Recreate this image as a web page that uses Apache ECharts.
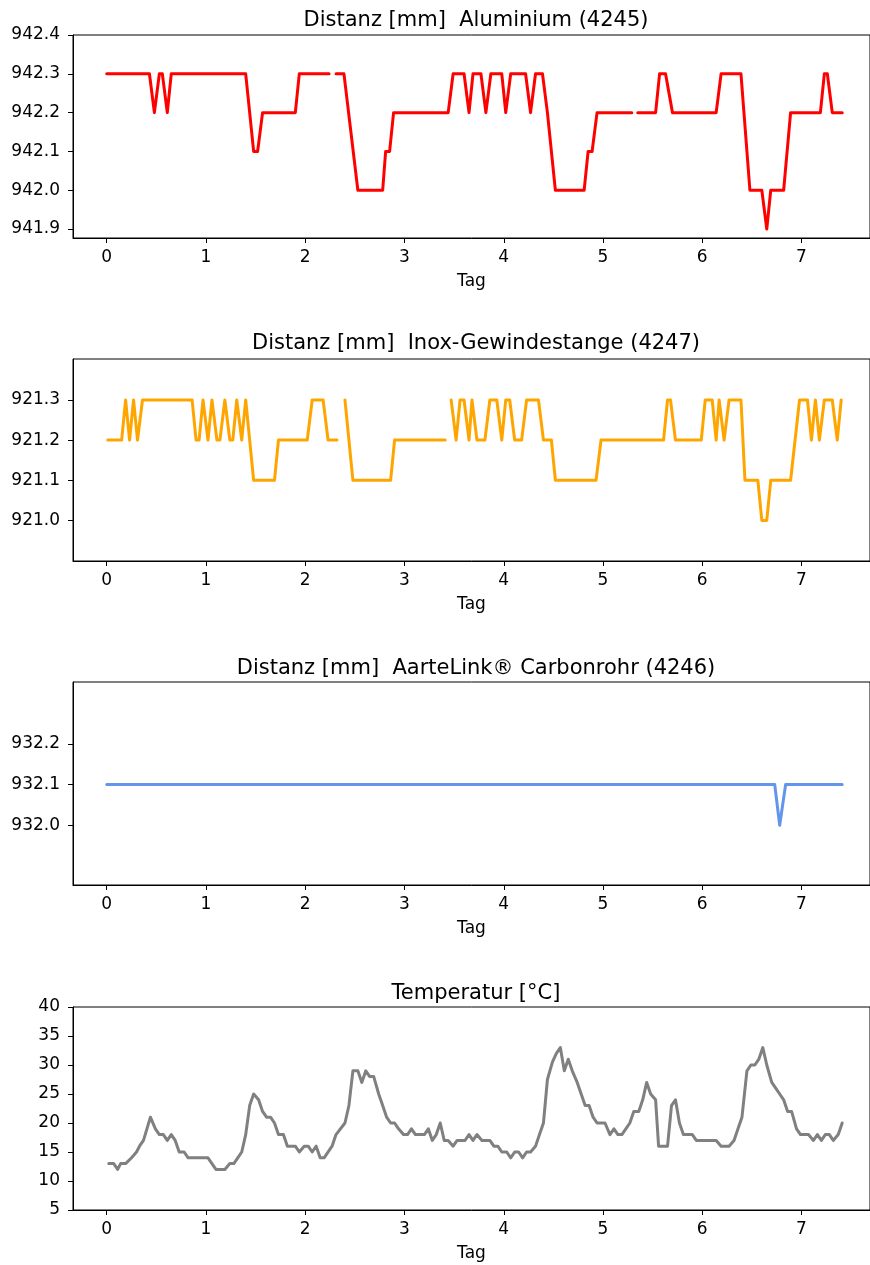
<!DOCTYPE html>
<html>
<head>
<meta charset="utf-8">
<script src="https://cdn.jsdelivr.net/npm/echarts@6/dist/echarts.min.js"></script>
<style>
html,body{margin:0;padding:0;background:#fff;}
#chart{width:870px;height:1265px;}
</style>
</head>
<body>
<div id="chart"></div>
<script>
// ---- Data (Tag = day) ----
const dayTicks = [0, 1, 2, 3, 4, 5, 6, 7];

const titles = [
  'Distanz [mm]  Aluminium (4245)',
  'Distanz [mm]  Inox-Gewindestange (4247)',
  'Distanz [mm]  AarteLink\u00AE Carbonrohr (4246)',
  'Temperatur [\u00B0C]'
];

const aluX = [0.00,0.43,0.48,0.53,0.56,0.61,0.65,1.40,1.48,1.52,1.57,1.90,1.94,2.24,2.27,2.31,2.39,2.53,2.78,2.81,2.85,2.89,3.44,3.49,3.60,3.65,3.69,3.77,3.82,3.87,3.98,4.02,4.07,4.22,4.27,4.32,4.39,4.44,4.52,4.81,4.85,4.89,4.94,5.29,5.32,5.35,5.53,5.57,5.63,5.70,6.14,6.19,6.39,6.42,6.48,6.60,6.65,6.69,6.82,6.89,7.19,7.23,7.26,7.31,7.41];
const aluY = [942.3,942.3,942.2,942.3,942.3,942.2,942.3,942.3,942.1,942.1,942.2,942.2,942.3,942.3,null,942.3,942.3,942.0,942.0,942.1,942.1,942.2,942.2,942.3,942.3,942.2,942.3,942.3,942.2,942.3,942.3,942.2,942.3,942.3,942.2,942.3,942.3,942.2,942.0,942.0,942.1,942.1,942.2,942.2,null,942.2,942.2,942.3,942.3,942.2,942.2,942.3,942.3,942.2,942.0,942.0,941.9,942.0,942.0,942.2,942.2,942.3,942.3,942.2,942.2];

const inoxX = [0.01,0.15,0.19,0.23,0.27,0.31,0.36,0.86,0.90,0.93,0.97,1.02,1.06,1.11,1.14,1.19,1.24,1.27,1.31,1.36,1.40,1.48,1.69,1.73,2.02,2.07,2.18,2.23,2.32,2.36,2.40,2.48,2.86,2.90,3.41,3.44,3.47,3.52,3.56,3.60,3.65,3.68,3.73,3.81,3.86,3.93,3.98,4.02,4.06,4.11,4.18,4.23,4.35,4.40,4.48,4.52,4.93,4.98,5.61,5.65,5.68,5.73,5.99,6.03,6.10,6.14,6.17,6.22,6.27,6.39,6.43,6.56,6.60,6.65,6.69,6.89,6.98,7.06,7.10,7.14,7.18,7.23,7.31,7.36,7.40];
const inoxY = [921.2,921.2,921.3,921.2,921.3,921.2,921.3,921.3,921.2,921.2,921.3,921.2,921.3,921.2,921.2,921.3,921.2,921.2,921.3,921.2,921.3,921.1,921.1,921.2,921.2,921.3,921.3,921.2,921.2,null,921.3,921.1,921.1,921.2,921.2,null,921.3,921.2,921.3,921.3,921.2,921.3,921.2,921.2,921.3,921.3,921.2,921.3,921.3,921.2,921.2,921.3,921.3,921.2,921.2,921.1,921.1,921.2,921.2,921.3,921.3,921.2,921.2,921.3,921.3,921.2,921.3,921.2,921.3,921.3,921.1,921.1,921.0,921.0,921.1,921.1,921.3,921.3,921.2,921.3,921.2,921.3,921.3,921.2,921.3];

const carbonX = [0.00,6.73,6.78,6.84,7.41];
const carbonY = [932.1,932.1,932.0,932.1,932.1];

const tempX = [0.02,0.07,0.11,0.14,0.19,0.25,0.30,0.33,0.37,0.44,0.49,0.53,0.57,0.61,0.65,0.69,0.73,0.78,0.82,1.02,1.10,1.19,1.24,1.28,1.32,1.36,1.40,1.44,1.48,1.53,1.57,1.61,1.65,1.69,1.73,1.78,1.82,1.90,1.94,1.99,2.03,2.07,2.11,2.15,2.19,2.27,2.31,2.40,2.44,2.48,2.53,2.57,2.61,2.65,2.69,2.74,2.78,2.82,2.86,2.90,2.94,2.99,3.03,3.07,3.11,3.20,3.24,3.28,3.32,3.36,3.40,3.44,3.49,3.53,3.61,3.65,3.69,3.73,3.78,3.86,3.90,3.94,3.98,4.03,4.07,4.11,4.15,4.19,4.23,4.27,4.32,4.36,4.40,4.44,4.49,4.53,4.57,4.61,4.65,4.69,4.74,4.78,4.82,4.86,4.90,4.94,5.02,5.07,5.11,5.15,5.19,5.23,5.27,5.31,5.36,5.40,5.44,5.48,5.53,5.56,5.65,5.69,5.73,5.77,5.81,5.90,5.94,6.14,6.19,6.27,6.32,6.36,6.40,6.45,6.49,6.53,6.57,6.61,6.65,6.70,6.74,6.78,6.82,6.86,6.90,6.95,6.99,7.07,7.12,7.16,7.20,7.24,7.28,7.32,7.37,7.41];
const tempY = [13,13,12,13,13,14,15,16,17,21,19,18,18,17,18,17,15,15,14,14,12,12,13,13,14,15,18,23,25,24,22,21,21,20,18,18,16,16,15,16,16,15,16,14,14,16,18,20,23,29,29,27,29,28,28,25,23,21,20,20,19,18,18,19,18,18,19,17,18,20,17,17,16,17,17,18,17,18,17,17,16,16,15,15,14,15,15,14,15,15,16,18,20,27.5,30.5,32,33,29,31,29,27,25,23,23,21,20,20,18,19,18,18,19,20,22,22,24,27,25,24,16,16,23,24,20,18,18,17,17,16,16,17,19,21,29,30,30,31,33,30,27,26,25,24,22,22,19,18,18,17,18,17,18,18,17,18,20];

const aluTicks = [941.9, 942.0, 942.1, 942.2, 942.3, 942.4];
const inoxTicks = [921.0, 921.1, 921.2, 921.3];
const carbonTicks = [932.0, 932.1, 932.2];

// ---- Chart ----
const pairs = (xs, ys) => xs.map((x, i) => [x, ys[i] === null ? '-' : ys[i]]);
const FONT = 'DejaVu Sans';
const gridTops = [35, 359, 682, 1007];
const gridH = [203, 202, 203, 203];
const titleTops = [5, 328, 653, 978];
const yRanges = [[941.877, 942.4], [920.899, 921.402], [931.853, 932.352], [5, 40]];
const yTicks = [aluTicks, inoxTicks, carbonTicks, null];
const colors = ['#ff0000', '#ffa500', '#6495ed', '#808080'];
const datasets = [pairs(aluX, aluY), pairs(inoxX, inoxY), pairs(carbonX, carbonY), pairs(tempX, tempY)];

const option = {
  animation: false,
  backgroundColor: '#ffffff',
  textStyle: { fontFamily: FONT },
  title: titles.map((t, i) => ({
    text: t, left: 471, top: titleTops[i], textAlign: 'center',
    textStyle: { fontFamily: FONT, fontSize: 21, fontWeight: 'normal', color: '#000' }
  })),
  grid: gridTops.map((t, i) => ({
    left: 73, top: t, right: -2, height: gridH[i],
    show: true, borderColor: '#000', borderWidth: 1, backgroundColor: 'transparent'
  })),
  xAxis: gridTops.map((t, i) => ({
    type: 'value', gridIndex: i, min: -0.34, max: 7.69,
    name: 'Tag', nameLocation: 'middle', nameGap: 35,
    nameTextStyle: { fontFamily: FONT, fontSize: 17, color: '#000' },
    axisLine: { show: true, onZero: false, lineStyle: { color: '#000', width: 1 } },
    axisTick: { show: true, length: 5, customValues: dayTicks, lineStyle: { color: '#000' } },
    axisLabel: { customValues: dayTicks, margin: 11, fontFamily: FONT, fontSize: 17, color: '#000' },
    splitLine: { show: false }
  })),
  yAxis: gridTops.map((t, i) => {
    const ax = {
      type: 'value', gridIndex: i, min: yRanges[i][0], max: yRanges[i][1],
      axisLine: { show: true, onZero: false, lineStyle: { color: '#000', width: 1 } },
      axisTick: { show: true, length: 5, lineStyle: { color: '#000' } },
      axisLabel: { margin: 13, fontFamily: FONT, fontSize: 17, color: '#000' },
      splitLine: { show: false }
    };
    if (yTicks[i]) {
      ax.axisTick.customValues = yTicks[i];
      ax.axisLabel.customValues = yTicks[i];
      ax.axisLabel.formatter = v => Number(v).toFixed(1);
    } else {
      ax.interval = 5;
    }
    return ax;
  }),
  series: datasets.map((d, i) => ({
    type: 'line', xAxisIndex: i, yAxisIndex: i, data: d,
    showSymbol: false, symbol: 'none', connectNulls: false,
    lineStyle: { color: colors[i], width: 3, join: 'round', cap: 'round' },
    itemStyle: { color: colors[i] }
  }))
};

const chart = echarts.init(document.getElementById('chart'), null, { renderer: 'canvas' });
chart.setOption(option);
</script>
</body>
</html>
